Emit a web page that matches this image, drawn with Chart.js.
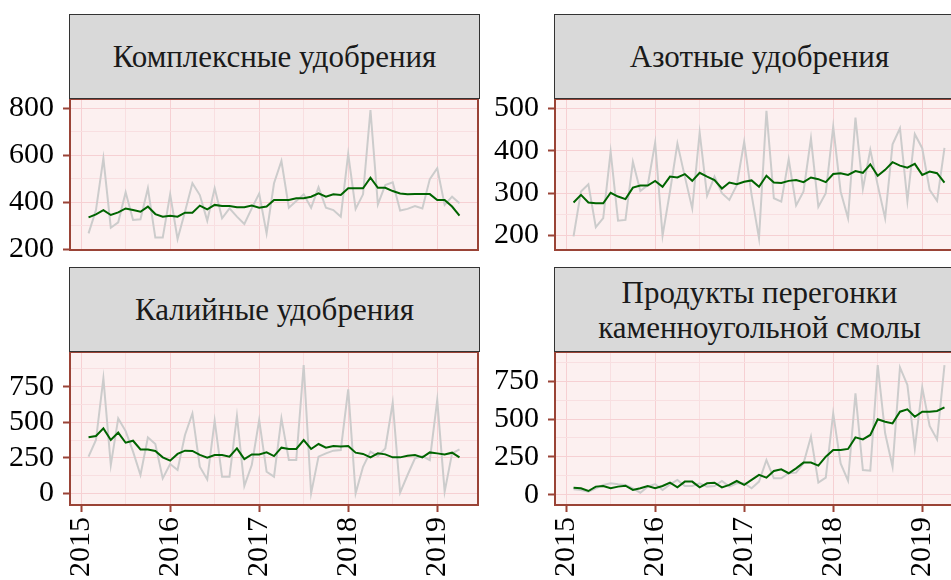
<!DOCTYPE html>
<html>
<head>
<meta charset="utf-8">
<script src="https://cdn.jsdelivr.net/npm/chart.js@4"></script>
<style>
  html, body { margin: 0; padding: 0; background: #fff; overflow: hidden; }
  #wrap { position: relative; width: 951px; height: 580px; overflow: hidden; }
  canvas { position: absolute; }
  .strip {
    position: absolute; box-sizing: border-box; background: #d9d9d9;
    border: 1px solid #333; z-index: 2;
    display: flex; align-items: center; justify-content: center; text-align: center;
    font-family: 'Liberation Serif', 'Times New Roman', serif; font-size: 31px;
    color: #1a1a1a; line-height: 35px;
  }
</style>
</head>
<body>
<div id="wrap">
  <div class="strip" style="left:69px;top:14px;width:411px;height:85px;">Комплексные удобрения</div>
  <div class="strip" style="left:554px;top:14px;width:411px;height:85px;">Азотные удобрения</div>
  <div class="strip" style="left:69px;top:267px;width:411px;height:85px;">Калийные удобрения</div>
  <div class="strip" style="left:554px;top:267px;width:411px;height:85px;">Продукты перегонки<br>каменноугольной смолы</div>

  <canvas id="c1" width="480" height="211" style="left:0px;top:69px;"></canvas>
  <canvas id="c2" width="480" height="211" style="left:485px;top:69px;"></canvas>
  <canvas id="c3" width="480" height="273" style="left:0px;top:322px;"></canvas>
  <canvas id="c4" width="480" height="273" style="left:485px;top:322px;"></canvas>
</div>
<script>
// monthly observations, end of month
const months = [
  '2015-01','2015-02','2015-03','2015-04','2015-05','2015-06','2015-07','2015-08','2015-09','2015-10','2015-11','2015-12',
  '2016-01','2016-02','2016-03','2016-04','2016-05','2016-06','2016-07','2016-08','2016-09','2016-10','2016-11','2016-12',
  '2017-01','2017-02','2017-03','2017-04','2017-05','2017-06','2017-07','2017-08','2017-09','2017-10','2017-11','2017-12',
  '2018-01','2018-02','2018-03','2018-04','2018-05','2018-06','2018-07','2018-08','2018-09','2018-10','2018-11','2018-12',
  '2019-01','2019-02','2019-03'
];

const complexRaw = [268,367,587,292,315,443,325,328,460,250,250,434,244,360,481,431,322,460,332,374,339,308,374,437,
  268,481,576,377,406,434,377,464,377,367,339,606,372,434,793,391,474,485,365,372,384,374,499,545,389,424,396];
const complexTrend = [336,349,367,346,357,374,367,360,382,350,339,343,339,356,356,386,370,389,384,384,379,379,386,377,
  382,410,410,410,417,417,424,438,424,434,431,460,460,460,505,462,462,448,438,434,435,435,435,410,410,382,343];

const nitrogenRaw = [198,304,321,220,241,398,235,237,374,305,319,419,200,304,417,339,264,443,294,339,300,284,319,421,
  296,194,494,288,280,380,271,304,429,268,300,457,304,241,478,310,402,319,241,415,453,282,439,406,308,282,407];
const nitrogenTrend = [278,296,278,276,276,301,292,286,313,318,318,329,315,339,337,345,329,348,339,331,311,325,321,327,
  330,315,341,325,324,329,331,326,337,333,326,345,347,343,352,348,368,341,355,373,365,360,369,343,351,347,325];

const potashRaw = [258,375,809,199,527,438,293,129,394,347,105,206,164,410,562,187,98,511,117,117,544,52,199,516,
  152,117,527,234,234,902,0,258,281,300,305,731,0,187,293,262,316,637,5,129,246,262,234,656,12,281,309];
const potashTrend = [394,403,457,375,427,356,370,309,309,298,253,230,277,300,298,270,251,270,270,258,316,241,274,274,
  288,262,321,312,312,375,312,347,321,333,330,333,286,277,253,281,274,253,253,265,270,253,288,281,274,286,253];

const tarRaw = [37,33,22,44,66,77,70,66,44,15,55,72,33,70,99,59,59,77,55,59,92,55,77,77,
  44,88,230,110,110,143,147,208,384,81,114,537,208,94,669,164,160,855,406,186,840,724,307,708,454,366,855];
const tarTrend = [48,44,26,55,59,44,55,61,33,44,59,44,59,81,50,88,88,50,77,81,50,66,92,66,
  99,132,114,158,169,143,175,213,213,193,252,296,296,303,379,366,395,498,482,471,548,564,515,548,548,553,577];

// axis ticks (major labelled, minor only as grid)
const yearTicks = [2015, 2016, 2017, 2018, 2019];
const halfYearTicks = [2015.5, 2016.5, 2017.5, 2018.5];
const complexTicks = [200, 400, 600, 800], complexMinor = [300, 500, 700];
const nitrogenTicks = [200, 300, 400, 500], nitrogenMinor = [250, 350, 450];
const potashTicks = [0, 250, 500, 750], potashMinor = [125, 375, 625, 875];
const tarTicks = [0, 250, 500, 750], tarMinor = [125, 375, 625, 875];

const PANEL_BG = '#fcf0f0';
const GRID_MAJOR = '#f6d0d3';
const GRID_MINOR = '#f8dfe1';
const FRAME = '#9a4336';

Chart.defaults.font.family = "'Liberation Serif', 'Times New Roman', serif";
Chart.defaults.font.size = 30;
Chart.defaults.color = '#000';

const toYear = m => +m.slice(0, 4) + (+m.slice(5)) / 12;
const xs = months.map(toYear);

const panelFrame = {
  id: 'panelFrame',
  beforeDraw(chart) {
    const a = chart.chartArea, ctx = chart.ctx;
    ctx.save();
    ctx.fillStyle = PANEL_BG;
    ctx.fillRect(a.left, a.top, a.right - a.left, a.bottom - a.top);
    ctx.restore();
  },
  afterDraw(chart) {
    const a = chart.chartArea, ctx = chart.ctx;
    ctx.save();
    ctx.strokeStyle = FRAME;
    ctx.lineWidth = 2;
    ctx.strokeRect(a.left, a.top, a.right - a.left, a.bottom - a.top);
    ctx.restore();
  }
};

function makePanel(id, raw, trend, yMin, yMax, yMajor, yMinor, showX) {
  const ctx = document.getElementById(id).getContext('2d');
  const isMajorY = v => yMajor.includes(v);
  const isMajorX = v => yearTicks.includes(v);
  new Chart(ctx, {
    type: 'line',
    data: {
      datasets: [
        {
          data: xs.map((x, i) => ({ x: x, y: trend[i] })),
          borderColor: '#006400', borderWidth: 2, pointRadius: 0, tension: 0
        },
        {
          data: xs.map((x, i) => ({ x: x, y: raw[i] })),
          borderColor: '#cccccc', borderWidth: 2, pointRadius: 0, tension: 0
        }
      ]
    },
    options: {
      responsive: false,
      animation: false,
      // top padding must beat the y axis label half-height + tick padding
      layout: { padding: { top: 30, right: 2, bottom: showX ? 0 : 30, left: 0 } },
      plugins: { legend: { display: false }, tooltip: { enabled: false } },
      scales: {
        x: {
          type: 'linear', min: 2014.875, max: 2019.458,
          afterBuildTicks: s => { s.ticks = yearTicks.concat(halfYearTicks).sort().map(v => ({ value: v })); },
          afterFit: s => { s.height = showX ? 90 : 0; },
          border: { display: false },
          grid: {
            color: c => isMajorX(c.tick.value) ? GRID_MAJOR : GRID_MINOR,
            tickColor: c => isMajorX(c.tick.value) ? FRAME : 'rgba(0,0,0,0)',
            tickLength: 7, tickWidth: 2, drawTicks: showX
          },
          ticks: {
            display: showX, autoSkip: false, minRotation: 90, maxRotation: 90, padding: 5,
            callback: v => isMajorX(v) ? String(v) : ''
          }
        },
        y: {
          min: yMin, max: yMax,
          afterBuildTicks: s => { s.ticks = yMajor.concat(yMinor).sort((a, b) => a - b).map(v => ({ value: v })); },
          afterFit: s => { s.width = 70; },
          border: { display: false },
          grid: {
            color: c => isMajorY(c.tick.value) ? GRID_MAJOR : GRID_MINOR,
            tickColor: c => isMajorY(c.tick.value) ? FRAME : 'rgba(0,0,0,0)',
            tickLength: 7, tickWidth: 2
          },
          ticks: {
            autoSkip: false, padding: 9,
            callback: v => isMajorY(v) ? String(v) : ''
          }
        }
      }
    },
    plugins: [panelFrame]
  });
}

makePanel('c1', complexRaw, complexTrend, 197, 840, complexTicks, complexMinor, false);
makePanel('c2', nitrogenRaw, nitrogenTrend, 166, 522, nitrogenTicks, nitrogenMinor, false);
makePanel('c3', potashRaw, potashTrend, -82, 994, potashTicks, potashMinor, true);
makePanel('c4', tarRaw, tarTrend, -66, 941, tarTicks, tarMinor, true);
</script>
</body>
</html>
